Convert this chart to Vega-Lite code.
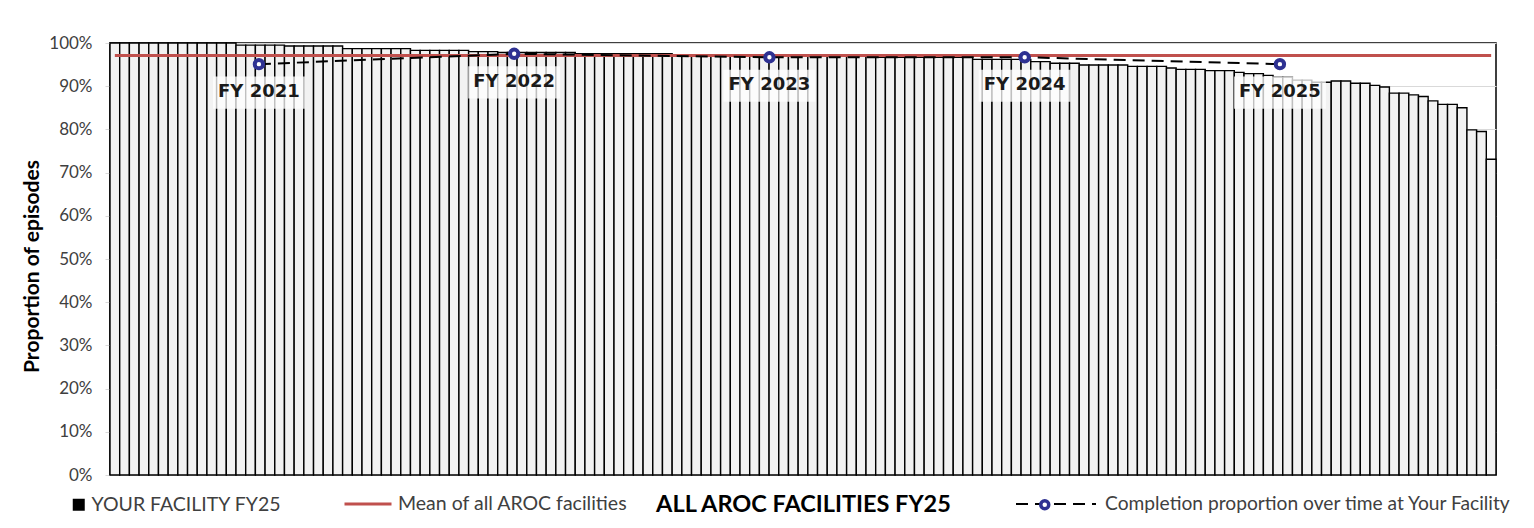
{
  "$schema": "https://vega.github.io/schema/vega-lite/v6.json",
  "width": 1386,
  "height": 432,
  "autosize": {"type": "none"},
  "padding": {"left": 110, "top": 43, "right": 38, "bottom": 53},
  "background": "#ffffff",
  "config": {
    "font": "Lato",
    "view": {"stroke": "#000000", "strokeWidth": 1.5}
  },
  "datasets": {
    "facilities": [
      {"rank": 0, "pct": 100}, {"rank": 1, "pct": 100}, {"rank": 2, "pct": 100}, {"rank": 3, "pct": 100},
      {"rank": 4, "pct": 100}, {"rank": 5, "pct": 100}, {"rank": 6, "pct": 100}, {"rank": 7, "pct": 100},
      {"rank": 8, "pct": 100}, {"rank": 9, "pct": 100}, {"rank": 10, "pct": 100}, {"rank": 11, "pct": 100},
      {"rank": 12, "pct": 100}, {"rank": 13, "pct": 99.5}, {"rank": 14, "pct": 99.5}, {"rank": 15, "pct": 99.5},
      {"rank": 16, "pct": 99.5}, {"rank": 17, "pct": 99.5}, {"rank": 18, "pct": 99.3}, {"rank": 19, "pct": 99.3},
      {"rank": 20, "pct": 99.3}, {"rank": 21, "pct": 99.3}, {"rank": 22, "pct": 99.3}, {"rank": 23, "pct": 99.3},
      {"rank": 24, "pct": 98.7}, {"rank": 25, "pct": 98.7}, {"rank": 26, "pct": 98.7}, {"rank": 27, "pct": 98.7},
      {"rank": 28, "pct": 98.7}, {"rank": 29, "pct": 98.7}, {"rank": 30, "pct": 98.7}, {"rank": 31, "pct": 98.3},
      {"rank": 32, "pct": 98.3}, {"rank": 33, "pct": 98.3}, {"rank": 34, "pct": 98.3}, {"rank": 35, "pct": 98.3},
      {"rank": 36, "pct": 98.3}, {"rank": 37, "pct": 98.0}, {"rank": 38, "pct": 98.0}, {"rank": 39, "pct": 98.0},
      {"rank": 40, "pct": 97.8}, {"rank": 41, "pct": 97.8}, {"rank": 42, "pct": 97.8}, {"rank": 43, "pct": 97.8},
      {"rank": 44, "pct": 97.8}, {"rank": 45, "pct": 97.8}, {"rank": 46, "pct": 97.8}, {"rank": 47, "pct": 97.8},
      {"rank": 48, "pct": 97.5}, {"rank": 49, "pct": 97.5}, {"rank": 50, "pct": 97.5}, {"rank": 51, "pct": 97.5},
      {"rank": 52, "pct": 97.5}, {"rank": 53, "pct": 97.5}, {"rank": 54, "pct": 97.5}, {"rank": 55, "pct": 97.5},
      {"rank": 56, "pct": 97.5}, {"rank": 57, "pct": 97.5}, {"rank": 58, "pct": 97.1}, {"rank": 59, "pct": 97.1},
      {"rank": 60, "pct": 97.1}, {"rank": 61, "pct": 97.1}, {"rank": 62, "pct": 97.1}, {"rank": 63, "pct": 97.1},
      {"rank": 64, "pct": 97.1}, {"rank": 65, "pct": 97.1}, {"rank": 66, "pct": 97.1}, {"rank": 67, "pct": 97.1},
      {"rank": 68, "pct": 97.1}, {"rank": 69, "pct": 97.1}, {"rank": 70, "pct": 96.9}, {"rank": 71, "pct": 96.9},
      {"rank": 72, "pct": 96.9}, {"rank": 73, "pct": 96.9}, {"rank": 74, "pct": 96.9}, {"rank": 75, "pct": 96.9},
      {"rank": 76, "pct": 96.9}, {"rank": 77, "pct": 96.9}, {"rank": 78, "pct": 96.9}, {"rank": 79, "pct": 96.7},
      {"rank": 80, "pct": 96.7}, {"rank": 81, "pct": 96.7}, {"rank": 82, "pct": 96.7}, {"rank": 83, "pct": 96.7},
      {"rank": 84, "pct": 96.7}, {"rank": 85, "pct": 96.7}, {"rank": 86, "pct": 96.7}, {"rank": 87, "pct": 96.7},
      {"rank": 88, "pct": 96.7}, {"rank": 89, "pct": 96.2}, {"rank": 90, "pct": 96.2}, {"rank": 91, "pct": 96.2},
      {"rank": 92, "pct": 96.2}, {"rank": 93, "pct": 96.2}, {"rank": 94, "pct": 96.2}, {"rank": 95, "pct": 95.7},
      {"rank": 96, "pct": 95.7}, {"rank": 97, "pct": 95.3}, {"rank": 98, "pct": 95.3}, {"rank": 99, "pct": 95.3},
      {"rank": 100, "pct": 94.9}, {"rank": 101, "pct": 94.9}, {"rank": 102, "pct": 94.9}, {"rank": 103, "pct": 94.9},
      {"rank": 104, "pct": 94.9}, {"rank": 105, "pct": 94.6}, {"rank": 106, "pct": 94.6}, {"rank": 107, "pct": 94.6},
      {"rank": 108, "pct": 94.6}, {"rank": 109, "pct": 94.2}, {"rank": 110, "pct": 93.9}, {"rank": 111, "pct": 93.9},
      {"rank": 112, "pct": 93.9}, {"rank": 113, "pct": 93.6}, {"rank": 114, "pct": 93.6}, {"rank": 115, "pct": 93.6},
      {"rank": 116, "pct": 93.2}, {"rank": 117, "pct": 92.9}, {"rank": 118, "pct": 92.9}, {"rank": 119, "pct": 92.5},
      {"rank": 120, "pct": 92.1}, {"rank": 121, "pct": 92.1}, {"rank": 122, "pct": 91.4}, {"rank": 123, "pct": 91.4},
      {"rank": 124, "pct": 90.9}, {"rank": 125, "pct": 90.9}, {"rank": 126, "pct": 91.2}, {"rank": 127, "pct": 91.2},
      {"rank": 128, "pct": 90.7}, {"rank": 129, "pct": 90.7}, {"rank": 130, "pct": 90.2}, {"rank": 131, "pct": 89.8},
      {"rank": 132, "pct": 88.4}, {"rank": 133, "pct": 88.4}, {"rank": 134, "pct": 88.0}, {"rank": 135, "pct": 87.6},
      {"rank": 136, "pct": 86.6}, {"rank": 137, "pct": 85.8}, {"rank": 138, "pct": 85.8}, {"rank": 139, "pct": 85.0},
      {"rank": 140, "pct": 79.9}, {"rank": 141, "pct": 79.5}, {"rank": 142, "pct": 73.1}
    ],
    "completion": [
      {"fy": "FY 2021", "pct": 95.1},
      {"fy": "FY 2022", "pct": 97.5},
      {"fy": "FY 2023", "pct": 96.7},
      {"fy": "FY 2024", "pct": 96.7},
      {"fy": "FY 2025", "pct": 95.1}
    ]
  },
  "resolve": {"scale": {"x": "independent", "stroke": "independent"}},
  "layer": [
    {
      "data": {"name": "facilities"},
      "layer": [
        {
          "mark": {"type": "bar", "fill": "#F2F2F2", "stroke": "#000000", "strokeWidth": 1.4},
          "encoding": {
            "x": {
              "field": "rank", "type": "ordinal",
              "scale": {"paddingInner": 0, "paddingOuter": 0},
              "axis": {
                "title": "ALL AROC FACILITIES FY25", "labels": false, "ticks": false, "domain": false,
                "titleFont": "Lato", "titleFontSize": 23.5, "titleFontWeight": "bold", "titleColor": "#000000",
                "titleY": 29, "titleBaseline": "middle"
              }
            },
            "y": {
              "field": "pct", "type": "quantitative",
              "scale": {"domain": [0, 100]},
              "axis": {
                "title": "Proportion of episodes",
                "values": [0, 10, 20, 30, 40, 50, 60, 70, 80, 90, 100],
                "labelExpr": "datum.value + '%'",
                "labelFont": "Lato", "labelFontSize": 17, "labelColor": "#404040", "labelPadding": 13,
                "tickSize": 5, "tickColor": "#D9D9D9", "domainColor": "#BFBFBF",
                "grid": true, "gridColor": "#D9D9D9",
                "titleFont": "Lato", "titleFontSize": 21, "titleFontWeight": "bold", "titleColor": "#000000",
                "titleX": -78, "titleY": 223, "titleAngle": -90, "titleAlign": "center", "titleBaseline": "middle"
              }
            }
          }
        },
        {
          "mark": {"type": "line", "strokeWidth": 3},
          "encoding": {
            "x": {"field": "rank", "type": "ordinal"},
            "y": {"datum": 97.1, "type": "quantitative"},
            "stroke": {
              "datum": "Mean of all AROC facilities",
              "scale": {"domain": ["Mean of all AROC facilities"], "range": ["#C0504D"]},
              "legend": {
                "title": null, "orient": "none", "legendX": 233, "legendY": 436, "padding": 0,
                "symbolType": "stroke", "symbolSize": 2209, "symbolStrokeWidth": 3, "symbolStrokeColor": "#C0504D",
                "labelFont": "Lato", "labelFontSize": 19.5, "labelColor": "#404040", "labelOffset": 5, "labelLimit": 0
              }
            }
          }
        }
      ]
    },
    {
      "data": {"name": "completion"},
      "encoding": {
        "x": {"field": "fy", "type": "ordinal", "scale": {"type": "point", "padding": 0.715, "align": 0.408}, "axis": null},
        "y": {"field": "pct", "type": "quantitative", "scale": {"domain": [0, 100]}}
      },
      "layer": [
        {
          "mark": {"type": "point", "shape": "M-1,-0.35H1V0.35H-1Z", "size": 8464, "filled": true, "color": "#ffffff", "opacity": 0.75, "strokeWidth": 0, "yOffset": 28.5}
        },
        {
          "mark": {"type": "line", "color": "#000000", "strokeWidth": 2},
          "encoding": {
            "strokeDash": {
              "datum": "Completion proportion over time at Your Facility",
              "scale": {"domain": ["Completion proportion over time at Your Facility"], "range": [[12, 7]]},
              "legend": {
                "title": null, "orient": "none", "legendX": 905, "legendY": 420, "padding": 0,
                "symbolType": "stroke", "symbolSize": 6400, "symbolStrokeWidth": 2, "symbolStrokeColor": "#000000",
                "labelFont": "Lato", "labelFontSize": 19.2, "labelColor": "#404040", "labelOffset": 8, "labelLimit": 0
              }
            }
          }
        },
        {
          "mark": {"type": "point", "filled": true, "fill": "#ffffff", "strokeWidth": 4, "size": 70, "opacity": 1, "shape": "circle"},
          "encoding": {
            "stroke": {
              "datum": "o",
              "scale": {"domain": ["o"], "range": ["#2E3192"]},
              "legend": {
                "title": null, "orient": "none", "legendX": 925, "legendY": 452, "padding": 0,
                "symbolType": "circle", "symbolSize": 64, "symbolStrokeWidth": 3.5,
                "symbolFillColor": "#ffffff", "symbolOpacity": 1,
                "labelExpr": "''", "labelFontSize": 19.5
              }
            }
          }
        },
        {
          "mark": {"type": "text", "dy": 28, "font": "DejaVu Sans", "fontWeight": "bold", "fontSize": 18, "color": "#1a1a1a"},
          "encoding": {"text": {"field": "fy"}}
        }
      ]
    },
    {
      "data": {"values": []},
      "mark": {"type": "square"},
      "encoding": {
        "fill": {
          "datum": "YOUR FACILITY FY25",
          "scale": {"domain": ["YOUR FACILITY FY25"], "range": ["#000000"]},
          "legend": {
            "title": null, "orient": "none", "legendX": -41, "legendY": 452, "padding": 0,
            "symbolType": "square", "symbolSize": 144, "symbolStrokeWidth": 0,
            "symbolFillColor": "#000000", "symbolOpacity": 1,
            "labelFont": "Lato", "labelFontSize": 19.5, "labelColor": "#404040", "labelOffset": 3, "labelLimit": 0
          }
        }
      }
    }
  ]
}
